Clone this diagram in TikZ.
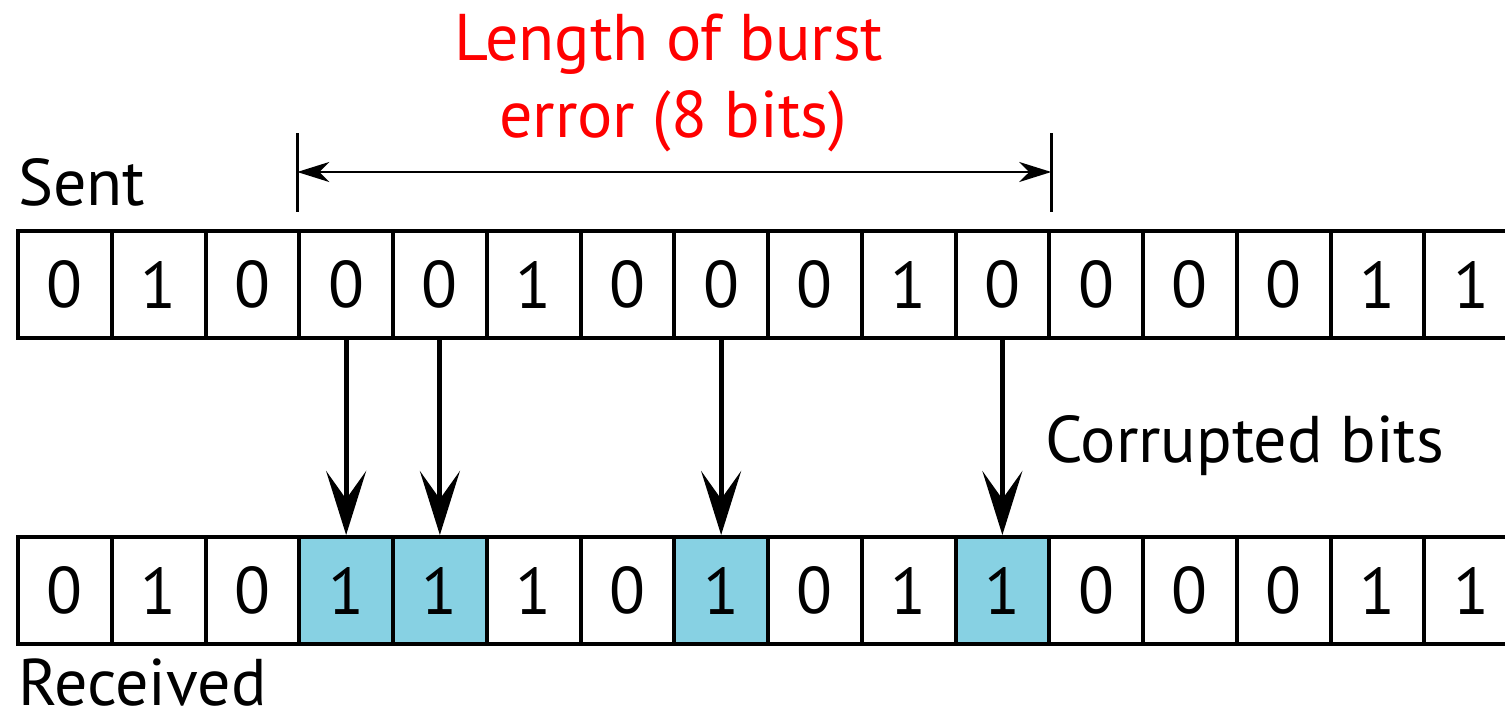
\documentclass[tikz,border=0pt]{standalone}
\usepackage{fontspec}
\setmainfont{PT Sans}
\usetikzlibrary{arrows.meta,calc}
\definecolor{cellblue}{RGB}{135,209,227}
\definecolor{burstred}{RGB}{255,0,0}
\newcommand\bigfont{\fontsize{66}{78}\selectfont}
\begin{document}
\begin{tikzpicture}[x=1pt,y=-1pt,
  bit/.style={draw,line width=4pt,minimum width=93.75pt,minimum height=107pt,inner sep=0pt,font=\bigfont},
  flip/.style={fill=cellblue},
  lbl/.style={font=\bigfont,inner sep=0pt,anchor=base west},
  corrupt/.style={line width=5pt,-{Stealth[length=64pt,width=40pt,inset=28pt]}},
  dimline/.style={line width=2pt,{Stealth[length=32pt,width=20pt,inset=10pt]}-{Stealth[length=32pt,width=20pt,inset=10pt]}},
  tickline/.style={line width=2.5pt}]
\useasboundingbox (0,0) rectangle (1505,718);
\clip (0,0) rectangle (1505,718);
% sent row
\foreach \v [count=\i] in {0,1,0,0,0,1,0,0,0,1,0,0,0,0,1,1}
  \node[bit] (s\i) at ({18+(\i-0.5)*93.75},284.5) {\v};
% received row
\foreach \v/\f [count=\i] in {0/,1/,0/,1/flip,1/flip,1/,0/,1/flip,0/,1/,1/flip,0/,0/,0/,1/,1/}
  \node[bit,\f] (r\i) at ({18+(\i-0.5)*93.75},590.5) {\v};
% corrupted bit arrows
\foreach \i in {4,5,8,11}
  \draw[corrupt] (s\i.south) -- (r\i.north);
% burst length dimension
\coordinate (tlt) at (s4.north west |- 0,133);
\coordinate (tlb) at (s4.north west |- 0,212);
\coordinate (trt) at (s11.north east |- 0,133);
\coordinate (trb) at (s11.north east |- 0,212);
\draw[tickline] (tlt) -- (tlb);
\draw[tickline] (trt) -- (trb);
\coordinate (dl) at (s4.north west |- 0,172);
\coordinate (dr) at (s11.north east |- 0,172);
\draw[dimline] (dl) -- (dr);
% labels
\node[lbl,anchor=base,text=burstred] (t1) at (669,60) {Length of burst};
\node[lbl,anchor=base,text=burstred] (t2) at (673,137) {error (8 bits)};
\node[lbl] (sent) at (18,205) {Sent};
\node[lbl] (recv) at (18,705) {Received};
\node[lbl] (corr) at (1045,462) {Corrupted bits};
\end{tikzpicture}
\end{document}
